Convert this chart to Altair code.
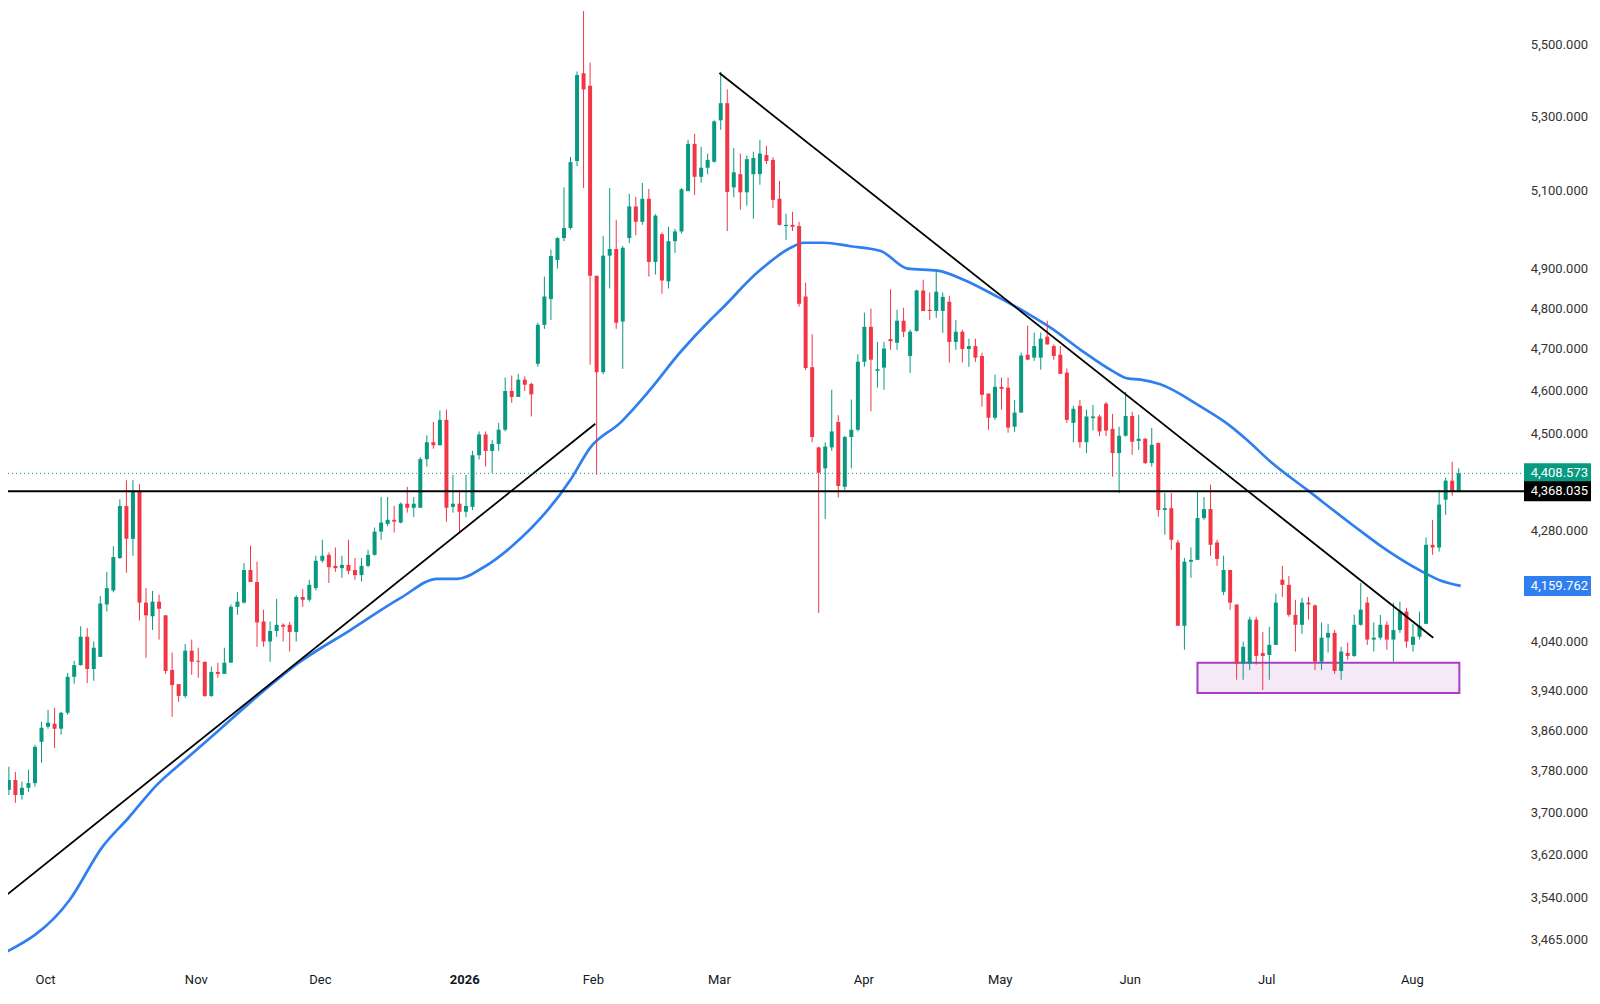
import altair as alt
import pandas as pd

# ---------------- data ----------------
opens = [3706,3744,3763,3734,3748,3757,3838,3868,3874,3864,
         3896,3969,3993,4052,3985,4010,4120,4150,4220,4335,
         4262,4368,4124,4095,4126,4097,3983,3954,3930,4023,
         4002,4000,3930,3979,3975,3998,4115,4124,4194,4168,
         4084,4042,4064,4077,4077,4062,4136,4130,4155,4214,
         4227,4203,4198,4205,4194,4183,4203,4227,4278,4295,
         4304,4298,4340,4331,4331,4441,4480,4473,4532,4333,
         4340,4322,4333,4450,4498,4460,4476,4509,4600,4586,
         4627,4617,4665,4760,4824,4922,4978,5004,5180,5420,
         5385,4882,4645,4933,4950,4768,4978,5060,5020,5080,
         4917,4988,4868,4970,4995,5100,5226,5138,5162,5178,
         5290,5337,5110,5145,5097,5145,5145,5196,5183,5080,
         5009,5012,5009,4830,4657,4468,4420,4468,4527,4378,
         4492,4509,4670,4755,4648,4656,4725,4716,4770,4684,
         4745,4845,4797,4794,4794,4817,4718,4743,4701,4708,
         4684,4594,4537,4610,4608,4516,4549,4687,4680,4680,
         4731,4708,4687,4644,4525,4565,4480,4536,4540,4570,
         4511,4455,4495,4541,4483,4488,4432,4478,4326,4330,
         4254,4075,4212,4216,4308,4328,4254,4147,4194,4120,
         3996,3996,4088,4018,4014,4035,4173,4162,4098,4077,
         4124,4118,4000,4050,4060,3981,4018,4012,4077,4124,
         4046,4050,4077,4046,4066,4105,4035,4052,4079,4249,
         4243,4349,4392,4369]

highs = [3759,3789,3779,3760,3783,3832,3878,3902,3906,3898,
         3977,4002,4074,4070,4042,4138,4190,4246,4350,4393,
         4393,4384,4155,4149,4141,4097,4019,3954,4037,4046,
         4029,4000,3990,3998,4029,4120,4147,4209,4247,4212,
         4109,4084,4132,4080,4083,4140,4153,4173,4225,4260,
         4232,4243,4225,4260,4220,4220,4238,4287,4355,4355,
         4335,4343,4378,4355,4446,4496,4527,4554,4556,4405,
         4371,4405,4460,4505,4505,4485,4525,4632,4637,4641,
         4635,4620,4765,4880,4948,4980,5110,5191,5425,5597,
         5450,4882,4983,5108,5025,4958,5093,5085,5122,5106,
         5040,4992,5007,5002,5108,5237,5253,5218,5200,5290,
         5424,5375,5215,5200,5195,5205,5237,5221,5190,5127,
         5041,5046,5020,4865,4737,4470,4480,4603,4543,4495,
         4580,4688,4790,4800,4718,4718,4848,4797,4802,4748,
         4847,4872,4840,4897,4840,4832,4772,4748,4726,4726,
         4692,4594,4639,4632,4632,4579,4692,4758,4741,4741,
         4770,4712,4708,4654,4565,4579,4556,4567,4544,4574,
         4546,4516,4598,4551,4544,4490,4513,4480,4364,4364,
         4260,4220,4243,4367,4355,4383,4260,4225,4194,4120,
         4042,4094,4094,4062,4073,4143,4203,4181,4130,4134,
         4136,4120,4082,4079,4066,4031,4040,4098,4166,4136,
         4082,4098,4084,4124,4126,4113,4079,4105,4265,4304,
         4371,4399,4435,4420]

lows = [3697,3734,3719,3725,3740,3750,3797,3864,3826,3852,
        3892,3955,3992,3956,3961,4010,4105,4146,4218,4188,
        4225,4086,4008,4066,4046,3975,3888,3918,3926,3973,
        3967,3928,3928,3967,3975,3998,4098,4122,4168,4031,
        4031,4000,4052,4042,4021,4042,4115,4126,4150,4210,
        4166,4190,4177,4185,4173,4169,4200,4225,4260,4290,
        4276,4296,4320,4310,4330,4424,4465,4473,4300,4320,
        4276,4310,4326,4440,4424,4410,4460,4505,4572,4586,
        4600,4540,4658,4750,4772,4900,4970,5000,5166,5108,
        4663,4405,4640,4850,4750,4653,4965,4985,5012,4880,
        4885,4837,4850,4940,4990,5100,5090,5122,5145,5176,
        5264,4996,5084,5051,5062,5028,5117,5172,5056,5010,
        4973,4996,4805,4650,4480,4102,4306,4460,4354,4371,
        4420,4505,4658,4552,4608,4603,4699,4699,4730,4643,
        4743,4794,4772,4777,4740,4668,4699,4668,4658,4670,
        4563,4509,4532,4556,4502,4504,4549,4675,4672,4651,
        4712,4675,4641,4525,4480,4467,4455,4507,4494,4494,
        4401,4364,4493,4451,4462,4430,4424,4311,4271,4238,
        4075,4025,4177,4216,4304,4225,4203,4140,4109,3963,
        3963,3983,3994,3942,3963,4035,4136,4094,4021,4058,
        4088,3983,3983,4019,3975,3963,4004,4010,4075,4035,
        4021,4046,4025,4000,4060,4029,4021,4046,4079,4227,
        4234,4315,4358,4366]

closes = [3749,3763,3734,3748,3757,3828,3866,3876,3864,3896,
          3969,3993,4052,3985,4029,4122,4155,4222,4335,4262,
          4368,4124,4097,4126,4111,3981,3952,3930,4023,4000,
          4000,3930,3979,3975,3998,4115,4126,4194,4168,4082,
          4042,4064,4077,4073,4062,4136,4130,4162,4214,4225,
          4200,4198,4205,4192,4183,4203,4227,4278,4298,4304,
          4300,4340,4331,4340,4441,4480,4473,4532,4331,4340,
          4322,4335,4450,4498,4460,4476,4509,4600,4586,4627,
          4615,4592,4760,4830,4932,4978,5004,5177,5415,5375,
          4882,4645,4933,4950,4765,4953,5060,5020,5080,4917,
          5036,4870,4970,4995,5105,5226,5138,5162,5183,5287,
          5337,5098,5150,5097,5185,5188,5200,5180,5077,5012,
          5012,5007,4812,4655,4492,4410,4470,4505,4380,4492,
          4509,4670,4755,4675,4652,4702,4720,4770,4743,4743,
          4845,4794,4794,4842,4829,4718,4743,4701,4708,4680,
          4591,4537,4610,4605,4514,4549,4685,4675,4708,4726,
          4712,4684,4641,4532,4558,4480,4540,4540,4505,4507,
          4455,4495,4541,4481,4488,4432,4474,4326,4330,4260,
          4075,4212,4216,4308,4328,4249,4218,4194,4124,3996,
          4031,4088,4012,4012,4035,4124,4162,4098,4077,4124,
          4120,4000,4050,4060,3981,4021,4012,4077,4109,4046,
          4050,4077,4046,4066,4105,4042,4052,4075,4249,4243,
          4338,4392,4369,4408.573]

# moving average line (candle index, value)
ma_idx = [-0.3, 10.3, 15.3, 19.3, 23.7, 28.3, 32.9, 38.4, 45.6, 53.3,
          61.0, 66.6, 69.7, 73.7, 77.8, 87.0, 90.0, 94.6, 98.8, 103.8,
          108.4, 110.0, 115.6, 120.7, 122.7, 125.7, 129.9, 134.5, 138.6, 143.2,
          147.2, 152.4, 157.4, 160.5, 165.1, 170.1, 172.3, 174.3, 177.3, 183.5,
          188.0, 190.6, 194.2, 199.8, 206.9, 212.1, 217.2, 220.1, 223.3]
ma_val = [3438, 3537, 3635, 3690, 3754, 3806, 3858, 3922, 4000, 4066,
          4134, 4175, 4175, 4200, 4243, 4394, 4467, 4525, 4596, 4693,
          4772, 4797, 4890, 4953, 4966, 4966, 4957, 4945, 4900, 4895,
          4872, 4829, 4784, 4753, 4699, 4647, 4630, 4627, 4616, 4563,
          4518, 4485, 4435, 4371, 4291, 4236, 4192, 4172, 4159.762]

# drawn trend lines (candle index, price)
trend_up_idx = [-0.3, 90.8]
trend_up_val = [3537, 4523]
trend_dn_idx = [109.8, 219.1]
trend_dn_val = [5421, 4050]

# highlighted support box
box_idx = [183, 223.1]
box_val = [3936, 3998]

# price levels / tags
last_price = 4408.573
level_price = 4368.035
ma_last = 4159.762

# axes
month_labels = ["Oct", "Nov", "Dec", "2026", "Feb", "Mar", "Apr", "May", "Jun", "Jul", "Aug"]
month_pos = [6.6, 29.7, 48.7, 70.8, 90.5, 109.8, 131.9, 152.8, 172.7, 193.6, 215.9]
y_ticks = [5500, 5300, 5100, 4900, 4800, 4700, 4600, 4500, 4280, 4040,
           3940, 3860, 3780, 3700, 3620, 3540, 3465]

# ---------------- styling ----------------
GREEN = "#089981"
RED = "#f23645"
BLUE = "#2f7ff0"
FONT = "Roboto"
PLOT_W = 1520
PLOT_H = 968
TAG_X = 1557.5
TAG_W = 67
TAG_PATH = "M-1,-0.2985L1,-0.2985L1,0.2985L-1,0.2985Z"
LABEL_RIGHT = 1588

n = len(opens)
candles = pd.DataFrame({"i": list(range(n)), "open": opens, "high": highs,
                        "low": lows, "close": closes})
candles["dir"] = ["up" if c >= o else "down" for o, c in zip(opens, closes)]

xs = alt.Scale(domain=[0.409, 231.62], nice=False, zero=False)
ys = alt.Scale(type="log", domain=[3415, 5629], nice=False, zero=False)
col = alt.Color("dir:N", scale=alt.Scale(domain=["up", "down"], range=[GREEN, RED]), legend=None)

box = alt.Chart(pd.DataFrame({"x1": [box_idx[0]], "x2": [box_idx[1]],
                              "y1": [box_val[0]], "y2": [box_val[1]]})).mark_rect(
    fill="#9c27b0", fillOpacity=0.1, stroke="#a63fc4", strokeWidth=2
).encode(x=alt.X("x1:Q", scale=xs, axis=None), x2="x2:Q",
         y=alt.Y("y1:Q", scale=ys, axis=None), y2="y2:Q")

ma = alt.Chart(pd.DataFrame({"i": ma_idx, "v": ma_val})).mark_line(
    color=BLUE, strokeWidth=2.7, interpolate="monotone", clip=True
).encode(x=alt.X("i:Q", scale=xs, axis=None), y=alt.Y("v:Q", scale=ys, axis=None),
         order="i:Q")

wicks = alt.Chart(candles).mark_rule(strokeWidth=1, clip=True).encode(
    x=alt.X("i:Q", scale=xs, axis=None),
    y=alt.Y("low:Q", scale=ys, axis=None),
    y2="high:Q", color=col)

bodies = alt.Chart(candles).mark_bar(width=4, clip=True).encode(
    x=alt.X("i:Q", scale=xs, axis=None),
    y=alt.Y("open:Q", scale=ys, axis=None),
    y2="close:Q", color=col)

trend_df = pd.DataFrame({"seg": ["up"] * len(trend_up_idx) + ["down"] * len(trend_dn_idx),
                         "i": trend_up_idx + trend_dn_idx,
                         "v": trend_up_val + trend_dn_val})
trend = alt.Chart(trend_df).mark_line(color="#000000", strokeWidth=1.8, clip=True).encode(
    x=alt.X("i:Q", scale=xs, axis=None), y=alt.Y("v:Q", scale=ys, axis=None),
    detail="seg:N")

last_line = alt.Chart(pd.DataFrame({"p": [last_price]})).mark_rule(
    color=GREEN, strokeWidth=1, strokeDash=[1, 3]
).encode(y=alt.Y("p:Q", scale=ys, axis=None), x=alt.value(0), x2=alt.value(TAG_X - TAG_W / 2))

level_line = alt.Chart(pd.DataFrame({"p": [level_price]})).mark_rule(
    color="#000000", strokeWidth=2
).encode(y=alt.Y("p:Q", scale=ys, axis=None), x=alt.value(0), x2=alt.value(TAG_X - TAG_W / 2))

# price-scale labels on the right
ytick_df = pd.DataFrame({"p": y_ticks, "t": [f"{v:,.3f}" for v in y_ticks]})
ylabels = alt.Chart(ytick_df).mark_text(
    font=FONT, fontSize=13, color="#333333", align="right", baseline="middle"
).encode(x=alt.value(LABEL_RIGHT), y=alt.Y("p:Q", scale=ys, axis=None), text="t:N")

tag_layers = []
for price, bg in [(last_price, GREEN), (level_price, "#000000"), (ma_last, BLUE)]:
    d = pd.DataFrame({"p": [price]})
    tag_layers.append(alt.Chart(d).mark_point(
        shape=TAG_PATH, filled=True, size=TAG_W * TAG_W, opacity=1, strokeWidth=0, color=bg
    ).encode(x=alt.value(TAG_X), y=alt.Y("p:Q", scale=ys, axis=None)))
for price in [last_price, level_price, ma_last]:
    d = pd.DataFrame({"p": [price], "t": [f"{price:,.3f}"]})
    tag_layers.append(alt.Chart(d).mark_text(
        color="white", font=FONT, fontSize=13, align="right", baseline="middle"
    ).encode(x=alt.value(LABEL_RIGHT), y=alt.Y("p:Q", scale=ys, axis=None), text="t:N"))

mdf = pd.DataFrame({"i": month_pos, "label": month_labels})
months = alt.Chart(mdf).transform_filter("datum.label != '2026'").mark_text(
    font=FONT, fontSize=13, color="#131722", baseline="middle", align="center"
).encode(x=alt.X("i:Q", scale=xs, axis=None), y=alt.value(980), text="label:N")
year = alt.Chart(mdf).transform_filter("datum.label == '2026'").mark_text(
    font=FONT, fontSize=13, color="#131722", baseline="middle", align="center", fontWeight="bold"
).encode(x=alt.X("i:Q", scale=xs, axis=None), y=alt.value(980), text="label:N")

chart = alt.layer(
    box, ma, wicks, bodies, trend, last_line, level_line, ylabels, *tag_layers, months, year
).properties(
    width=PLOT_W, height=PLOT_H,
    padding={"left": -8, "top": -8, "right": 72, "bottom": 20},
    autosize=alt.AutoSizeParams(type="none"),
    background="white",
).configure_view(strokeWidth=0)

chart.save("out.html", embed_options={"renderer": "svg", "actions": False})
